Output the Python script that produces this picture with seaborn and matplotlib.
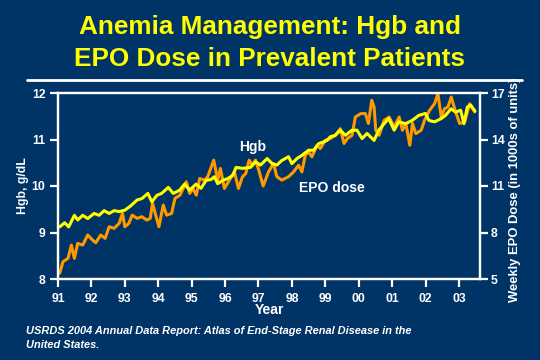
import matplotlib
matplotlib.use("Agg")
import matplotlib.pyplot as plt
import seaborn as sns
from matplotlib.lines import Line2D

# Hgb (left axis, g/dL)
hgb_year = [1991.05, 1991.20, 1991.32, 1991.49, 1991.59, 1991.74, 1991.89, 1992.08, 1992.23, 1992.38,
            1992.53, 1992.68, 1992.83, 1993.00, 1993.17, 1993.37, 1993.51, 1993.69, 1993.81, 1993.96,
            1994.10, 1994.30, 1994.45, 1994.64, 1994.79, 1994.94, 1995.13, 1995.28, 1995.43, 1995.58,
            1995.68, 1995.78, 1995.93, 1996.08, 1996.23, 1996.33, 1996.52, 1996.76, 1996.91, 1997.06,
            1997.26, 1997.41, 1997.55, 1997.70, 1997.90, 1998.00, 1998.15, 1998.30, 1998.50, 1998.65,
            1998.80, 1998.95, 1999.05, 1999.15, 1999.30, 1999.45, 1999.60, 1999.80, 1999.95, 2000.10,
            2000.25, 2000.46, 2000.60, 2000.76, 2000.90, 2001.06, 2001.20, 2001.40, 2001.60, 2001.80,
            2002.00, 2002.10, 2002.27, 2002.47, 2002.60, 2002.76, 2002.90, 2003.05, 2003.15, 2003.25,
            2003.35, 2003.48]
hgb = [9.12, 9.21, 9.12, 9.37, 9.27, 9.37, 9.30, 9.41, 9.37, 9.47,
       9.41, 9.47, 9.45, 9.48, 9.57, 9.70, 9.73, 9.84, 9.66, 9.80,
       9.84, 9.97, 9.84, 9.91, 10.04, 9.91, 10.04, 9.95, 10.12, 10.14,
       10.20, 10.05, 10.12, 10.16, 10.23, 10.40, 10.38, 10.40, 10.52, 10.45,
       10.59, 10.48, 10.45, 10.55, 10.63, 10.48, 10.59, 10.66, 10.77, 10.77,
       10.91, 10.95, 10.98, 11.06, 11.09, 11.20, 11.09, 11.20, 11.20, 11.02,
       11.13, 10.98, 11.20, 11.34, 11.45, 11.20, 11.38, 11.34, 11.41, 11.52,
       11.56, 11.41, 11.38, 11.45, 11.52, 11.66, 11.59, 11.63, 11.34, 11.70,
       11.74, 11.61]

# weekly EPO dose (right axis, 1000s of units)
epo_year = [1991.05, 1991.15, 1991.30, 1991.40, 1991.49, 1991.59, 1991.74, 1991.89, 1992.03, 1992.13,
            1992.28, 1992.41, 1992.53, 1992.68, 1992.83, 1992.93, 1993.00, 1993.12, 1993.22, 1993.37,
            1993.51, 1993.66, 1993.76, 1993.83, 1993.91, 1994.02, 1994.15, 1994.25, 1994.40, 1994.50,
            1994.65, 1994.84, 1994.94, 1995.04, 1995.14, 1995.24, 1995.38, 1995.48, 1995.66, 1995.78,
            1995.86, 1995.98, 1996.13, 1996.28, 1996.40, 1996.52, 1996.62, 1996.72, 1996.82, 1996.91,
            1997.01, 1997.14, 1997.30, 1997.45, 1997.55, 1997.70, 1997.90, 1998.05, 1998.20, 1998.30,
            1998.40, 1998.50, 1998.60, 1998.75, 1998.85, 1999.00, 1999.15, 1999.30, 1999.45, 1999.56,
            1999.66, 1999.80, 1999.90, 2000.06, 2000.20, 2000.29, 2000.39, 2000.46, 2000.51, 2000.61,
            2000.76, 2000.91, 2001.06, 2001.21, 2001.31, 2001.41, 2001.53, 2001.61, 2001.71, 2001.87,
            2001.97, 2002.12, 2002.27, 2002.37, 2002.47, 2002.57, 2002.67, 2002.77, 2002.87, 2003.02,
            2003.17, 2003.32, 2003.47]
epo = [5.37, 6.12, 6.33, 7.19, 6.33, 7.30, 7.19, 7.84, 7.52, 7.34,
       7.84, 7.62, 8.37, 8.27, 8.59, 9.23, 8.37, 8.59, 9.12, 8.91,
       9.02, 8.80, 8.91, 9.88, 9.23, 8.37, 9.77, 9.12, 9.23, 10.20,
       10.41, 11.27, 10.52, 10.84, 10.41, 11.48, 11.38, 11.59, 12.67, 11.38,
       12.13, 10.84, 11.38, 11.91, 10.84, 11.59, 11.81, 12.67, 12.34, 12.67,
       12.02, 11.00, 11.91, 12.45, 11.60, 11.38, 11.60, 11.91, 12.34, 11.91,
       12.99, 13.20, 12.88, 13.63, 13.42, 13.95, 14.06, 14.27, 14.70, 13.74,
       14.06, 14.27, 15.45, 15.67, 15.67, 15.03, 16.53, 16.10, 14.60, 14.27,
       15.24, 15.45, 14.81, 15.45, 14.60, 15.03, 13.63, 15.03, 14.38, 14.60,
       15.24, 15.88, 16.31, 16.96, 15.45, 15.99, 16.10, 16.74, 15.99, 15.03,
       15.13, 16.31, 15.78]

year_ticks = list(range(1991, 2004))
year_labels = ["91", "92", "93", "94", "95", "96", "97", "98", "99", "00", "01", "02", "03"]

bg = "#003366"
yellow = "#FFFF00"
orange = "#FF9900"

sns.set_theme(style="ticks")
plt.rcParams["font.family"] = ["Liberation Sans", "DejaVu Sans"]
plt.rcParams["font.weight"] = "bold"

fig = plt.figure(figsize=(5.4, 3.6), dpi=100, facecolor=bg)
ax = fig.add_axes([58 / 540, 1 - 279 / 360, 422 / 540, 186 / 360])
ax2 = ax.twinx()

sns.lineplot(x=epo_year, y=epo, ax=ax2, color=orange, linewidth=2.2)
sns.lineplot(x=hgb_year, y=hgb, ax=ax, color=yellow, linewidth=2.2)

# yellow line on top
ax.set_zorder(ax2.get_zorder() + 1)
ax.patch.set_visible(False)
ax2.patch.set_visible(False)

ax.set_xlim(1991, 2003.63)
ax.set_ylim(8, 12)
ax2.set_ylim(5, 17)
ax.set_xticks(year_ticks)
ax.set_xticklabels(year_labels)
ax.set_yticks([8, 9, 10, 11, 12])
ax2.set_yticks([5, 8, 11, 14, 17])

for a in (ax, ax2):
    for s in a.spines.values():
        s.set_color("white")
        s.set_linewidth(1.6)
    a.tick_params(colors="white", labelcolor="white", width=1.6, length=6,
                  direction="out", labelsize=8.8)
    for lab in a.get_xticklabels() + a.get_yticklabels():
        lab.set_fontweight("bold")
ax.tick_params(axis="x", pad=4)
ax.tick_params(axis="y", pad=3)
ax2.tick_params(axis="y", pad=2)

ax.set_xlabel("Year", color="white", fontsize=10, fontweight="bold", labelpad=-1)
ax.set_ylabel("Hgb, g/dL", color="white", fontsize=8.8, fontweight="bold")
ax.yaxis.set_label_coords(-0.068, 0.5)
ax2.set_ylabel("")

fig.text(515 / 540, 1 - 190 / 360, "Weekly EPO Dose (in 1000s of units)", rotation=90,
         ha="center", va="center", color="white", fontsize=9.4, fontweight="bold")

ax.text(1996.83, 10.84, "Hgb", color="white", fontsize=10, fontweight="bold",
        ha="center", va="center")
ax.text(1999.2, 9.96, "EPO dose", color="white", fontsize=10, fontweight="bold",
        ha="center", va="center")

fig.text(0.5, 1 - 34 / 360, "Anemia Management: Hgb and", ha="center", va="baseline",
         color=yellow, fontsize=18.8, fontweight="bold")
fig.text(0.5, 1 - 66 / 360, "EPO Dose in Prevalent Patients", ha="center", va="baseline",
         color=yellow, fontsize=18.8, fontweight="bold")
fig.add_artist(Line2D([27 / 540, 522 / 540], [1 - 80 / 360, 1 - 80 / 360],
                      color="white", linewidth=2, transform=fig.transFigure))

fig.text(26 / 540, 1 - 331 / 360,
         "USRDS 2004 Annual Data Report: Atlas of End-Stage Renal Disease in the",
         ha="left", va="center", color="white", fontsize=7.9, fontweight="bold", style="italic")
fig.text(26 / 540, 1 - 345 / 360, "United States.",
         ha="left", va="center", color="white", fontsize=7.9, fontweight="bold", style="italic")

fig.savefig("out.png", dpi=100, facecolor=bg)
